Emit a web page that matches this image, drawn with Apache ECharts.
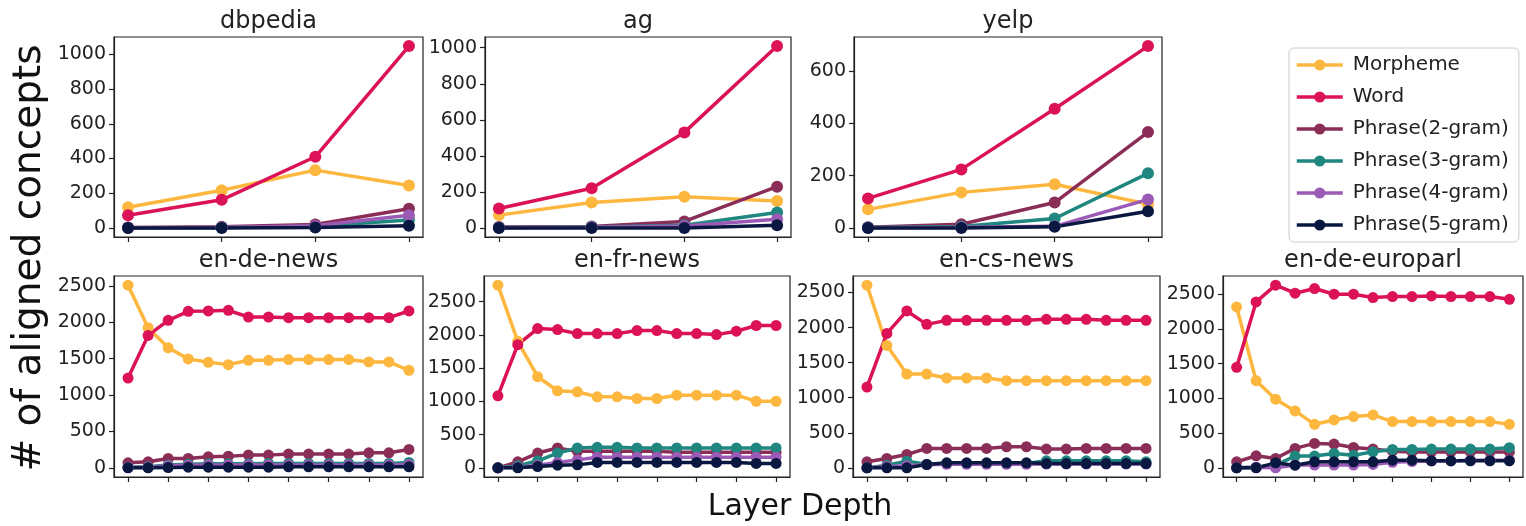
<!DOCTYPE html>
<html lang="en">
<head>
    <meta charset="UTF-8">
    <title>Aligned concepts by layer depth</title>
    <script src="https://cdn.jsdelivr.net/npm/echarts@6/dist/echarts.min.js"></script>
    <style>
        html,
        body {
            margin: 0px;
            padding: 0px;
            background: #fff;
        }

        #main {
            width: 1526px;
            height: 526px;
        }
    </style>
</head>

<body>
    <div id="main"></div>
    <script>
        // series names (legend order)
        var seriesNames = ['Morpheme', 'Word', 'Phrase(2-gram)', 'Phrase(3-gram)', 'Phrase(4-gram)', 'Phrase(5-gram)'];

        // layer indices
        var topLayers = [0, 1, 2, 3];
        var bottomLayers = [0, 1, 2, 3, 4, 5, 6, 7, 8, 9, 10, 11, 12, 13, 14];
        var bottomLayerTicks = [0, 2, 4, 6, 8, 10, 12, 14];

        // y tick labels
        var ticks1000 = [0, 200, 400, 600, 800, 1000];
        var ticks600 = [0, 200, 400, 600];
        var ticks2500 = [0, 500, 1000, 1500, 2000, 2500];

        // values, one row per series in seriesNames order
        var dbpedia = [
            [119, 217, 333, 244],
            [73, 162, 410, 1048],
            [3, 6, 20, 110],
            [1, 3, 10, 45],
            [1, 2, 12, 73],
            [0, 0, 3, 13]
        ];
        var ag = [
            [71, 141, 173, 149],
            [108, 220, 530, 1009],
            [5, 8, 36, 229],
            [2, 5, 15, 85],
            [1, 3, 10, 48],
            [0, 0, 0, 15]
        ];
        var yelp = [
            [71, 136, 167, 91],
            [113, 224, 456, 696],
            [3, 14, 97, 367],
            [2, 5, 36, 209],
            [1, 3, 6, 109],
            [0, 0, 4, 64]
        ];
        var enDeNews = [
            [2510, 1925, 1649, 1497, 1450, 1418, 1478, 1478, 1487, 1487, 1487, 1487, 1455, 1455, 1340],
            [1234, 1819, 2026, 2150, 2155, 2164, 2072, 2072, 2063, 2063, 2063, 2063, 2063, 2063, 2155],
            [69, 83, 129, 129, 152, 161, 175, 175, 189, 189, 189, 189, 207, 207, 253],
            [10, 15, 40, 50, 55, 55, 55, 60, 60, 60, 60, 60, 60, 60, 75],
            [5, 10, 30, 35, 40, 40, 40, 40, 40, 40, 40, 40, 40, 40, 45],
            [0, 0, 5, 10, 10, 10, 10, 10, 15, 15, 15, 15, 15, 15, 15]
        ];
        var enFrNews = [
            [2748, 1903, 1371, 1159, 1144, 1068, 1068, 1043, 1043, 1093, 1093, 1093, 1093, 1002, 1002],
            [1083, 1852, 2095, 2080, 2019, 2019, 2019, 2065, 2065, 2019, 2019, 2004, 2055, 2141, 2141],
            [0, 91, 223, 299, 248, 248, 248, 248, 248, 233, 233, 233, 233, 233, 233],
            [0, 30, 106, 223, 299, 309, 309, 299, 299, 299, 299, 299, 299, 299, 299],
            [0, 10, 40, 80, 120, 160, 160, 160, 160, 160, 160, 160, 160, 160, 160],
            [0, 0, 20, 40, 45, 81, 81, 81, 81, 81, 81, 81, 81, 66, 66]
        ];
        var enCsNews = [
            [2605, 1745, 1338, 1338, 1281, 1281, 1281, 1243, 1243, 1243, 1243, 1243, 1243, 1243, 1243],
            [1152, 1917, 2237, 2046, 2103, 2103, 2103, 2103, 2103, 2118, 2118, 2118, 2103, 2103, 2103],
            [86, 134, 191, 277, 277, 277, 277, 301, 301, 268, 268, 277, 277, 277, 277],
            [0, 38, 96, 53, 62, 62, 62, 62, 62, 100, 100, 100, 100, 100, 86],
            [0, 20, 30, 45, 50, 50, 50, 50, 50, 55, 55, 55, 55, 55, 55],
            [0, 0, 0, 48, 72, 72, 72, 72, 72, 62, 62, 62, 62, 62, 62]
        ];
        var enDeEuroparl = [
            [2317, 1255, 989, 820, 627, 690, 738, 762, 666, 666, 666, 666, 666, 666, 627],
            [1448, 2389, 2631, 2515, 2582, 2500, 2500, 2452, 2466, 2466, 2476, 2466, 2466, 2466, 2427],
            [87, 174, 135, 280, 352, 343, 294, 270, 240, 230, 230, 230, 230, 230, 230],
            [0, 10, 40, 170, 170, 207, 180, 232, 265, 265, 270, 270, 270, 270, 290],
            [0, 10, 0, 40, 40, 40, 40, 50, 80, 90, 100, 100, 110, 110, 110],
            [0, 0, 72, 38, 87, 87, 87, 87, 111, 111, 101, 101, 101, 101, 101]
        ];

        var colors = ['#fdb73e', '#dc1259', '#8b2e57', '#1f877f', '#9b5ab5', '#0a1740'];
        var font = 'DejaVu Sans';

        // panel layout: [left, top, width, height] in px
        var panels = [
            { title: 'dbpedia', data: dbpedia, layers: topLayers, xTicks: topLayers, yTicks: ticks1000, rect: [114, 37, 309, 200] },
            { title: 'ag', data: ag, layers: topLayers, xTicks: topLayers, yTicks: ticks1000, rect: [485, 37, 306, 200] },
            { title: 'yelp', data: yelp, layers: topLayers, xTicks: topLayers, yTicks: ticks600, rect: [854, 37, 308, 200] },
            { title: 'en-de-news', data: enDeNews, layers: bottomLayers, xTicks: bottomLayerTicks, yTicks: ticks2500, rect: [114, 276, 309, 201] },
            { title: 'en-fr-news', data: enFrNews, layers: bottomLayers, xTicks: bottomLayerTicks, yTicks: ticks2500, rect: [484, 276, 306, 201] },
            { title: 'en-cs-news', data: enCsNews, layers: bottomLayers, xTicks: bottomLayerTicks, yTicks: ticks2500, rect: [853, 276, 307, 201] },
            { title: 'en-de-europarl', data: enDeEuroparl, layers: bottomLayers, xTicks: bottomLayerTicks, yTicks: ticks2500, rect: [1223, 276, 300, 201] }
        ];

        var grid = [], xAxis = [], yAxis = [], series = [], graphic = [];

        panels.forEach(function (p, i) {
            var r = p.rect;
            grid.push({
                left: r[0], top: r[1], width: r[2], height: r[3],
                show: true, borderColor: '#222', borderWidth: 1.2, backgroundColor: 'transparent'
            });

            // matplotlib-like 5% margins
            var nx = p.layers[p.layers.length - 1] - p.layers[0];
            var all = [].concat.apply([], p.data);
            var lo = Math.min.apply(null, all), hi = Math.max.apply(null, all);
            var pad = (hi - lo) * 0.05;

            xAxis.push({
                type: 'value', gridIndex: i,
                min: p.layers[0] - nx * 0.05, max: p.layers[p.layers.length - 1] + nx * 0.05,
                axisLine: { show: true, onZero: false, lineStyle: { color: '#222', width: 1.2 } },
                axisTick: { show: true, customValues: p.xTicks, length: 5, lineStyle: { color: '#222', width: 1.2 } },
                axisLabel: { show: false },
                splitLine: { show: false }
            });
            yAxis.push({
                type: 'value', gridIndex: i,
                min: lo - pad, max: hi + pad,
                axisLine: { show: true, onZero: false, lineStyle: { color: '#222', width: 1.2 } },
                axisTick: { show: true, customValues: p.yTicks, length: 5, lineStyle: { color: '#222', width: 1.2 } },
                axisLabel: {
                    customValues: p.yTicks, margin: 8, color: '#222', fontSize: 19, fontFamily: font,
                    formatter: function (v) { return String(v); }
                },
                splitLine: { show: false }
            });

            p.data.forEach(function (vals, k) {
                series.push({
                    name: seriesNames[k],
                    type: 'line',
                    xAxisIndex: i, yAxisIndex: i,
                    data: p.layers.map(function (x, j) { return [x, vals[j]]; }),
                    symbol: 'circle',
                    symbolSize: i < 3 ? 12 : 11,
                    color: colors[k],
                    lineStyle: { width: 3.5, color: colors[k] },
                    itemStyle: { color: colors[k] },
                    animation: false
                });
            });

            graphic.push({
                type: 'text',
                x: r[0] + r[2] / 2, y: r[1] - 27,
                style: {
                    text: p.title, fill: '#222', font: '24px "' + font + '"',
                    textAlign: 'center', textVerticalAlign: 'top'
                }
            });
        });

        graphic.push({
            type: 'text',
            x: 30, y: 258, rotation: Math.PI / 2,
            style: {
                text: '# of aligned concepts', fill: '#111', font: '39px "' + font + '"',
                textAlign: 'center', textVerticalAlign: 'middle'
            }
        });
        graphic.push({
            type: 'text',
            x: 800, y: 507,
            style: {
                text: 'Layer Depth', fill: '#111', font: '30px "' + font + '"',
                textAlign: 'center', textVerticalAlign: 'middle'
            }
        });

        var chart = echarts.init(document.getElementById('main'));
        chart.setOption({
            backgroundColor: '#fff',
            animation: false,
            grid: grid,
            xAxis: xAxis,
            yAxis: yAxis,
            series: series,
            graphic: graphic,
            legend: {
                data: seriesNames,
                orient: 'vertical',
                left: 1289, top: 48,
                padding: [7, 10, 7, 6],
                itemWidth: 46, itemHeight: 14, itemGap: 12,
                borderColor: '#ccc', borderWidth: 1, borderRadius: 5,
                itemStyle: { borderWidth: 0 },
                lineStyle: { width: 3.5 },
                textStyle: { fontSize: 20, lineHeight: 20, color: '#222', fontFamily: font, padding: [0, 0, 0, 5] }
            }
        });
    </script>
</body>

</html>
